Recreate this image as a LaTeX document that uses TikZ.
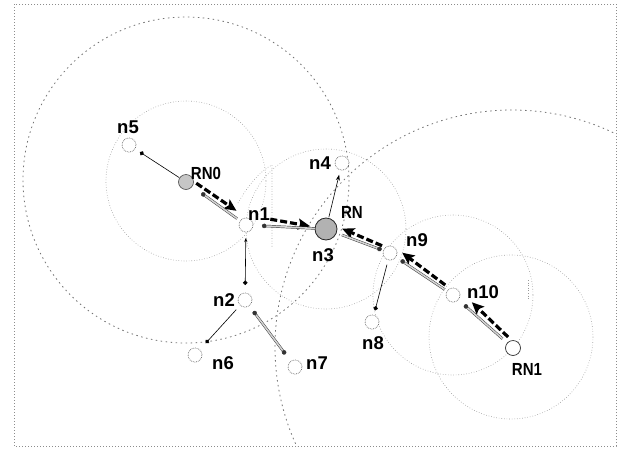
\documentclass[tikz,border=0pt]{standalone}
\usepackage{fontspec}
\setmainfont{Liberation Sans}
\usetikzlibrary{arrows.meta,calc}
\begin{document}
\begin{tikzpicture}[x=1pt,y=-1pt,
  nd/.style={circle,draw=black!60,densely dotted,line width=0.7pt,fill=white,minimum size=14pt,inner sep=0pt},
  rn/.style={circle,draw=black!70,line width=0.6pt,fill=gray!45,minimum size=15pt,inner sep=0pt},
  rnc/.style={circle,draw=black!85,line width=0.8pt,fill=gray!60,minimum size=22pt,inner sep=0pt},
  rnw/.style={circle,draw=black!80,line width=0.7pt,fill=white,minimum size=15pt,inner sep=0pt},
  lbl/.style={font=\bfseries\fontsize{18.5}{18.5}\selectfont,inner sep=0pt},
  rlbl/.style={font=\bfseries\fontsize{17.5}{17.5}\selectfont,inner sep=0pt,xscale=0.86},
  rng/.style={draw=black!40,line width=0.6pt,dotted},
  rngd/.style={draw=black!55,line width=0.8pt,dash pattern=on 1.5pt off 3.5pt},
  frm/.style={draw=black!45,line width=0.6pt,dash pattern=on 1pt off 2pt},
  thin/.style={draw=black,line width=0.6pt,-{Circle[length=4.5pt]}},
  req/.style={draw=black,line width=3.2pt,dash pattern=on 7pt off 3pt,-{Stealth[length=12pt,width=11pt,inset=2.5pt]}},
  rep/.style={draw=black!80,line width=0.45pt,double=gray!35,double distance=1.6pt,-{Circle[length=4.5pt]}},
]
\useasboundingbox (0,0) rectangle (625,448);
\fill[white] (0,0) rectangle (625,448);
% frame
\draw[frm] (14,4) rectangle (616,446);
% range circles
\draw[rngd] (186,180) circle[radius=163];
\draw[rng] (186,181) circle[radius=80];
\draw[rng] (326,229) circle[radius=80];
\draw[rng] (453,295) circle[radius=80];
\draw[rng] (511,337) circle[radius=82];
\begin{scope}
  \clip (14,4) rectangle (616,446);
  \draw[rngd] (512,347) circle[radius=237];
\end{scope}
\draw[rng] (238,203) .. controls (250,182) and (262,170) .. (272,165) -- (272,248);
\draw[rng] (528,280) -- (528,300);
% nodes
\node[nd]  (n5)  at (129,145) {};
\node[rn]  (RN0) at (186,182) {};
\node[nd]  (n1)  at (246,225) {};
\node[nd]  (n4)  at (342,163) {};
\node[rnc] (n3)  at (326,229) {};
\node[nd]  (n2)  at (245,300) {};
\node[nd]  (n6)  at (195,355) {};
\node[nd]  (n7)  at (295,367) {};
\node[nd]  (n8)  at (372,322) {};
\node[nd]  (n9)  at (390,253) {};
\node[nd]  (n10) at (453,295) {};
\node[rnw] (RN1) at (513,348) {};
% labels
\node[lbl]  (l5)   at (128,127) {n5};
\node[rlbl] (lR0)  at (206,173) {RN0};
\node[lbl]  (l1)   at (259,214) {n1};
\node[lbl]  (l4)   at (320,163) {n4};
\node[rlbl] (lR)   at (352,212) {RN};
\node[lbl]  (l3)   at (323,255) {n3};
\node[lbl]  (l2)   at (224,300) {n2};
\node[lbl]  (l6)   at (223,363) {n6};
\node[lbl]  (l7)   at (317,363) {n7};
\node[lbl]  (l8)   at (373,343) {n8};
\node[lbl]  (l9)   at (417,240) {n9};
\node[lbl]  (l10)  at (483,292) {n10};
\node[rlbl] (lR1)  at (527,369) {RN1};
% thin connectors
\draw[thin] ($(RN0)!8pt!(n5)$) -- ($(n5)!13pt!(RN0)$);
\draw[thin,{Stealth[length=4pt,width=3pt]}-{Circle[length=4.5pt]}] ($(n1)!13pt!(n2)$) -- ($(n2)!15pt!(n1)$);
\draw[thin] ($(n2)!13pt!(n6)$) -- ($(n6)!16pt!(n2)$);
\draw[rep,{Circle[length=4.5pt]}-{Circle[length=4.5pt]}] ($(n2)!14pt!(n7)$) -- ($(n7)!16pt!(n2)$);
\draw[thin,-{Stealth[length=6pt,width=4pt]}] ($(n3)!12pt!(n4)$) -- ($(n4)!12pt!(n3)$);
\draw[thin] ($(n9)!12pt!(n8)$) -- ($(n8)!12pt!(n9)$);
% request / reply
\draw[req] ($(RN0)!9pt!(n1)!5pt!90:(n1)$) -- ($(n1)!16pt!(RN0)!6pt!-90:(RN0)$);
\draw[rep] ($(n1)!11pt!(RN0)$) -- ($(RN0)!19pt!(n1)$);
\draw[req] ($(n1)!24pt!(n3)!7pt!90:(n3)$) -- ($(n3)!16pt!(n1)!2pt!-90:(n1)$);
\draw[rep] ($(n3)!11pt!(n1)$) -- ($(n1)!16pt!(n3)$);
\draw[req] ($(n9)!10pt!(n3)!4pt!-90:(n3)$) -- ($(n3)!15pt!(n9)!6pt!90:(n9)$);
\draw[rep] ($(n3)!17pt!(n9)$) -- ($(n9)!9pt!(n3)$);
\draw[req] ($(n10)!12pt!(n9)!4pt!-90:(n9)$) -- ($(n9)!10pt!(n10)!7pt!90:(n10)$);
\draw[rep] ($(n10)!10pt!(n9)$) -- ($(n9)!13pt!(n10)$);
\draw[req] ($(RN1)!11pt!(n10)!5pt!-90:(n10)$) -- ($(n10)!19pt!(RN1)!7pt!90:(RN1)$);
\draw[rep] ($(RN1)!14pt!(n10)$) -- ($(n10)!15pt!(RN1)$);
\end{tikzpicture}
\end{document}
